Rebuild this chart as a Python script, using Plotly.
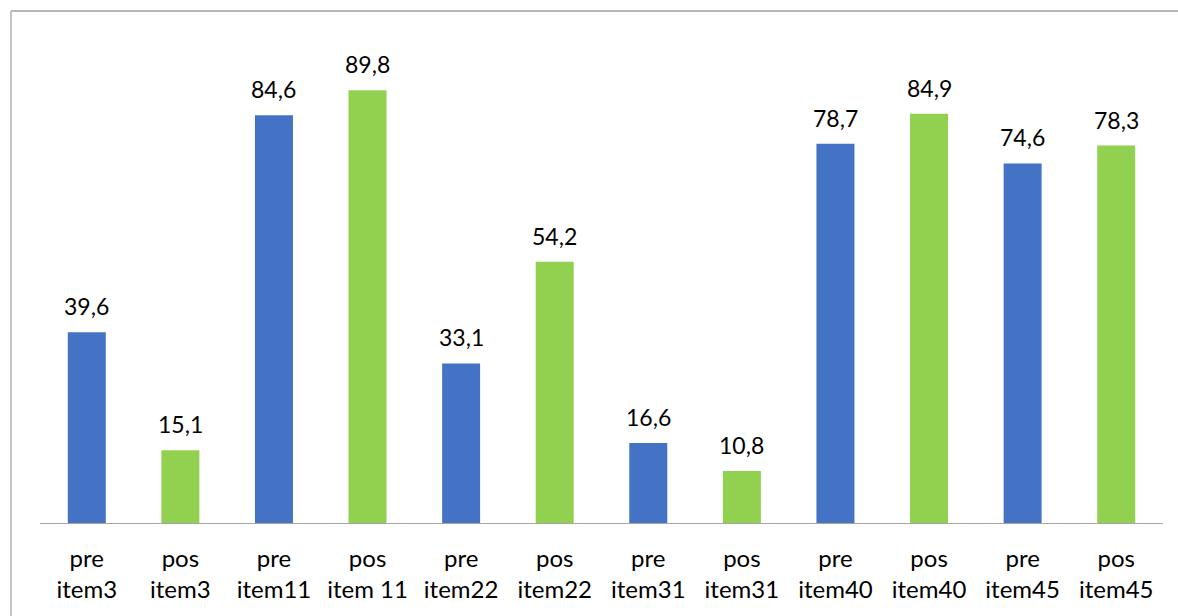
import plotly.graph_objects as go

items = ["item3", "item11", "item22", "item31", "item40", "item45"]
pos_item_labels = ["item3", "item 11", "item22", "item31", "item40", "item45"]
pre_values = [39.6, 84.6, 33.1, 16.6, 78.7, 74.6]
pos_values = [15.1, 89.8, 54.2, 10.8, 84.9, 78.3]

BLUE = "#4472C4"
GREEN = "#92D050"

cats, vals, cols = [], [], []
for it, pit, a, b in zip(items, pos_item_labels, pre_values, pos_values):
    cats += [f"pre<br>{it}", f"pos<br>{pit}"]
    vals += [a, b]
    cols += [BLUE, GREEN]

fig = go.Figure()
fig.add_trace(go.Bar(x=cats, y=vals, marker=dict(color=cols, line=dict(width=0)),
                     hoverinfo="x+y"))

for c, v in zip(cats, vals):
    fig.add_annotation(x=c, y=v, text=f"{v:.1f}".replace(".", ","), showarrow=False,
                       yanchor="bottom", yshift=10,
                       font=dict(size=23, color="#000000", family="Lato"))

L, R, T, B = 40, 15, 41, 93
W, H = 1178, 616
pw, ph = W - L - R, H - T - B
fx0 = (11 - L) / pw
fx1 = (W + 50 - L) / pw
fy_top = (H - B - 11) / ph
fy_bot = -(H + 50 - T - ph) / ph
# chart frame: top and left edges (right/bottom fall outside the picture)
fig.add_shape(type="line", xref="paper", yref="paper", x0=fx0, x1=fx1, y0=fy_top, y1=fy_top,
              line=dict(color="#a0a0a0", width=1.5), layer="below")
fig.add_shape(type="line", xref="paper", yref="paper", x0=fx0, x1=fx0, y0=fy_bot, y1=fy_top,
              line=dict(color="#b0b0b0", width=1.5), layer="below")

fig.update_layout(
    width=W, height=H,
    margin=dict(l=L, r=R, t=T, b=B),
    paper_bgcolor="white", plot_bgcolor="white",
    bargap=0.594,
    showlegend=False,
    font=dict(family="Lato", size=24, color="#000000"),
    xaxis=dict(showline=True, linecolor="#a6a6a6", linewidth=1, ticks="",
               tickfont=dict(size=24), showgrid=False, ticklabelstandoff=14),
    yaxis=dict(range=[0, 100], visible=False, showgrid=False),
)

fig.write_html("out.html", config={"displayModeBar": False},
               post_script="document.body.style.margin='0';document.body.style.overflow='hidden';")
